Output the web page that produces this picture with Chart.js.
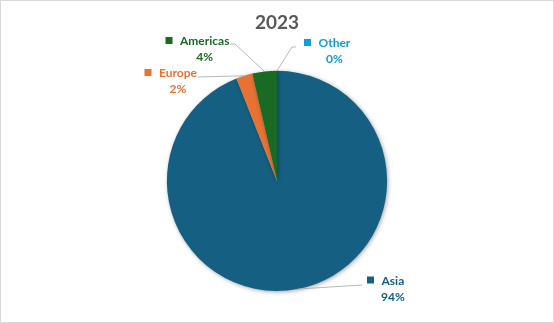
<!DOCTYPE html>
<html>
<head>
<meta charset="utf-8">
<script src="https://cdn.jsdelivr.net/npm/chart.js@4.4.1/dist/chart.umd.min.js"></script>
<style>
  html, body { margin: 0; padding: 0; background: #fff; }
  #wrap { width: 554px; height: 323px; position: relative; }
</style>
</head>
<body>
<div id="wrap"><canvas id="c" width="554" height="323"></canvas></div>
<script>
// data
const regions = ["Asia", "Europe", "Americas", "Other"];
const shares = [94.0, 2.4, 3.6, 0];
const sliceColors = ["#156082", "#E97132", "#196B24", "#0F9ED5"];
const chartTitle = "2023";

// where each label sits (marker centre, optional elbow, line end)
const labelLayout = [
  { mx: 370.5, my: 280, elbow: null, end: [362, 285] },
  { mx: 148, my: 72.5, elbow: null, end: [198, 77] },
  { mx: 169, my: 40.5, elbow: [235, 44], end: [230, 44] },
  { mx: 307.5, my: 42.5, elbow: [292, 47], end: [296, 47] }
];

const FONT = "Lato, 'Open Sans', sans-serif";

// soft shadow under the pie like in Excel
const pieShadow = {
  id: "pieShadow",
  beforeDatasetsDraw(chart) {
    const ctx = chart.ctx;
    ctx.save();
    ctx.shadowColor = "rgba(0,0,0,0.35)";
    ctx.shadowBlur = 4;
    ctx.shadowOffsetX = 1;
    ctx.shadowOffsetY = 1;
  },
  afterDatasetsDraw(chart) {
    chart.ctx.restore();
  }
};

// data labels with leader lines
const calloutLabels = {
  id: "calloutLabels",
  afterDraw(chart) {
    const ctx = chart.ctx;
    const meta = chart.getDatasetMeta(0);
    const vals = chart.data.datasets[0].data;
    const total = vals.reduce((a, b) => a + b, 0);
    meta.data.forEach((arc, i) => {
      const L = labelLayout[i];
      const mid = (arc.startAngle + arc.endAngle) / 2;
      const px = arc.x + Math.cos(mid) * arc.outerRadius;
      const py = arc.y + Math.sin(mid) * arc.outerRadius;

      // leader line
      ctx.save();
      ctx.strokeStyle = "#A6A6A6";
      ctx.lineWidth = 0.8;
      ctx.beginPath();
      ctx.moveTo(px, py);
      if (L.elbow) ctx.lineTo(L.elbow[0], L.elbow[1]);
      ctx.lineTo(L.end[0], L.end[1]);
      ctx.stroke();
      ctx.restore();

      // marker + text
      const col = sliceColors[i];
      ctx.save();
      ctx.fillStyle = col;
      ctx.fillRect(L.mx - 3.5, L.my - 3.5, 7, 7);
      ctx.font = "bold 12px " + FONT;
      ctx.textBaseline = "middle";
      ctx.textAlign = "left";
      const tx = L.mx + 11;
      const name = chart.data.labels[i];
      ctx.fillText(name, tx, L.my + 1);
      const w = ctx.measureText(name).width;
      const pct = Math.round(vals[i] / total * 100) + "%";
      ctx.textAlign = "center";
      ctx.fillText(pct, tx + w / 2, L.my + 17);
      ctx.restore();
    });

    // outer frame
    ctx.save();
    ctx.strokeStyle = "#D9D9D9";
    ctx.lineWidth = 1;
    ctx.strokeRect(0.5, 0.5, chart.width - 1, chart.height - 1);
    ctx.restore();
  }
};

new Chart(document.getElementById("c"), {
  type: "pie",
  data: {
    labels: regions,
    datasets: [{
      data: shares,
      backgroundColor: sliceColors,
      borderWidth: 0,
      hoverOffset: 0
    }]
  },
  options: {
    responsive: false,
    animation: false,
    events: [],
    layout: { padding: { top: 0, bottom: 32, left: 0, right: 0 } },
    plugins: {
      legend: { display: false },
      tooltip: { enabled: false },
      title: {
        display: true,
        text: chartTitle,
        color: "#595959",
        font: { family: FONT, size: 19, weight: "bold", lineHeight: 1.2 },
        padding: { top: 11, bottom: 37 }
      }
    }
  },
  plugins: [pieShadow, calloutLabels]
});
</script>
</body>
</html>
